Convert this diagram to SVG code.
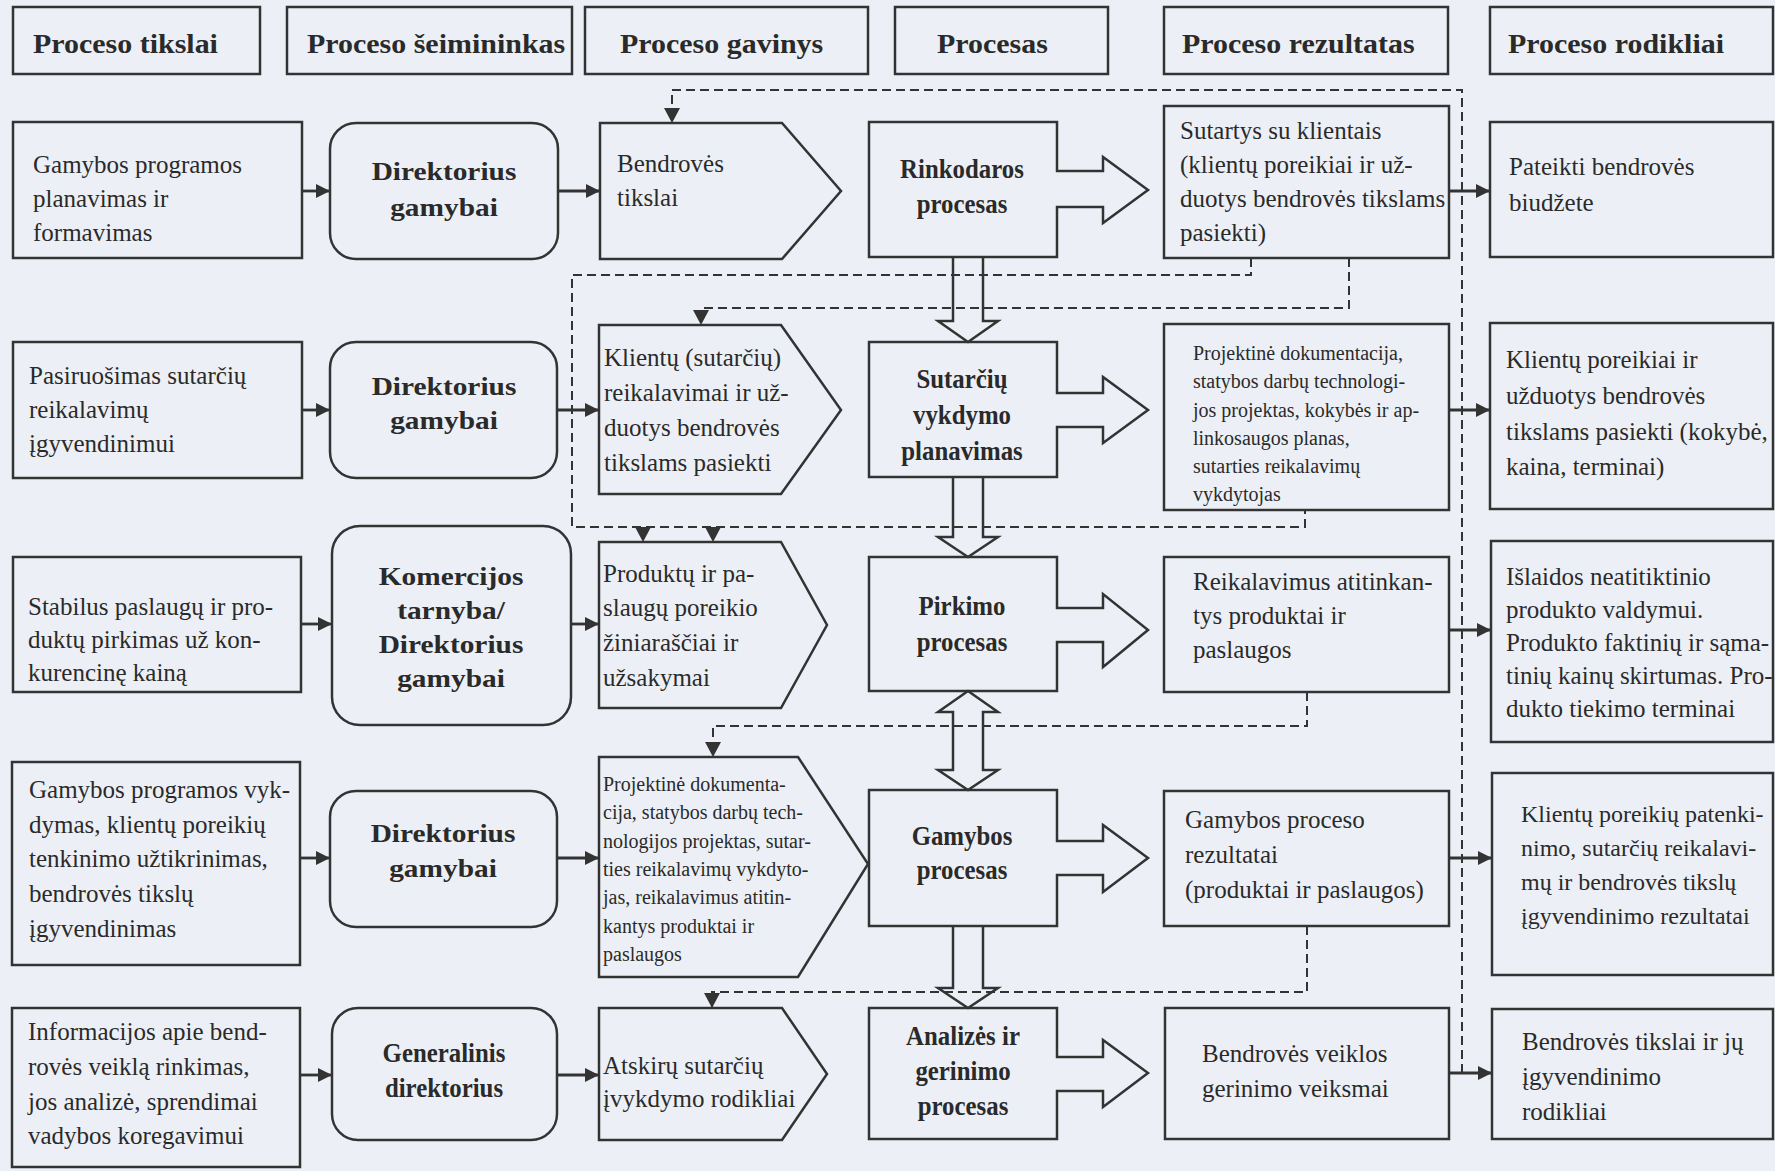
<svg xmlns="http://www.w3.org/2000/svg" width="1775" height="1171" viewBox="0 0 1775 1171">
  <defs>
    <style>
      .bg { fill: #ecf0f6; }
      .box { fill: #ecf0f6; stroke: #333; stroke-width: 2.5; }
      .blk { fill: none; stroke: #333; stroke-width: 2.5; stroke-linejoin: miter; }
      .conn { fill: none; stroke: #333; stroke-width: 2.8; }
      .dash { fill: none; stroke: #333; stroke-width: 2; stroke-dasharray: 9 5; }
      text { font-family: "Liberation Serif", "Times New Roman", serif; fill: #2a2a2a; }
      .t { font-size: 25px; }
      .t24 { font-size: 24px; }
      .s { font-size: 20px; }
      .hd { font-size: 28px; font-weight: bold; }
      .own { font-size: 26px; font-weight: bold; }
      .pr { font-size: 27px; font-weight: bold; }
    </style>
    <marker id="arr" markerUnits="userSpaceOnUse" viewBox="0 0 14 14" markerWidth="14" markerHeight="14" refX="14" refY="7" orient="auto">
      <path d="M0 0 L14 7 L0 14 Z" fill="#333"/>
    </marker>
    <marker id="dart" markerUnits="userSpaceOnUse" viewBox="0 0 15 16" markerWidth="15" markerHeight="16" refX="15" refY="8" orient="auto">
      <path d="M0 0 L15 8 L0 16 Z" fill="#333"/>
    </marker>
  </defs>

  <rect class="bg" x="0" y="0" width="1775" height="1171"/>

  <!-- column headers -->
  <g id="headers">
    <rect class="box" x="13" y="7" width="247" height="67"/>
    <rect class="box" x="287" y="7" width="285" height="67"/>
    <rect class="box" x="585" y="7" width="283" height="67"/>
    <rect class="box" x="895" y="7" width="213" height="67"/>
    <rect class="box" x="1164" y="7" width="284" height="67"/>
    <rect class="box" x="1490" y="7" width="283" height="67"/>
    <text class="hd" transform="matrix(1.07 0 0 1 33 53)">Proceso tikslai</text>
    <text class="hd" transform="matrix(1.07 0 0 1 307 53)">Proceso šeimininkas</text>
    <text class="hd" transform="matrix(1.07 0 0 1 620 53)">Proceso gavinys</text>
    <text class="hd" transform="matrix(1.07 0 0 1 937 53)">Procesas</text>
    <text class="hd" transform="matrix(1.07 0 0 1 1182 53)">Proceso rezultatas</text>
    <text class="hd" transform="matrix(1.07 0 0 1 1508 53)">Proceso rodikliai</text>
  </g>

  <!-- row 1 -->
  <g id="goal1">
    <rect class="box" x="13" y="122" width="289" height="136"/>
    <text class="t"><tspan x="33" y="173">Gamybos programos</tspan><tspan x="33" y="207">planavimas ir</tspan><tspan x="33" y="241">formavimas</tspan></text>
  </g>
  <g id="owner1">
    <rect class="box" x="330" y="123" width="228" height="136" rx="26"/>
    <text class="own" text-anchor="middle" transform="matrix(1.13 0 0 1 444 180)"><tspan x="0" y="0">Direktorius</tspan><tspan x="0" y="36">gamybai</tspan></text>
  </g>
  <g id="input1">
    <path class="box" d="M600 123 H782 L841 191 L782 259 H600 Z"/>
    <text class="t"><tspan x="617" y="172">Bendrovės</tspan><tspan x="617" y="206">tikslai</tspan></text>
  </g>
  <g id="process1">
    <path class="box" d="M869 122 H1057 V171 H1103 V157 L1148 190 L1103 223 V207 H1057 V257 H869 Z"/>
    <text class="pr" text-anchor="middle" transform="matrix(0.92 0 0 1 962 178)"><tspan x="0" y="0">Rinkodaros</tspan><tspan x="0" y="35">procesas</tspan></text>
  </g>
  <g id="result1">
    <rect class="box" x="1164" y="106" width="285" height="152"/>
    <text class="t"><tspan x="1180" y="139">Sutartys su klientais</tspan><tspan x="1180" y="173">(klientų poreikiai ir už-</tspan><tspan x="1180" y="207">duotys bendrovės tikslams</tspan><tspan x="1180" y="241">pasiekti)</tspan></text>
  </g>
  <g id="kpi1">
    <rect class="box" x="1490" y="122" width="283" height="135"/>
    <text class="t"><tspan x="1509" y="175">Pateikti bendrovės</tspan><tspan x="1509" y="211">biudžete</tspan></text>
  </g>

  <!-- row 2 -->
  <g id="goal2">
    <rect class="box" x="13" y="342" width="289" height="136"/>
    <text class="t"><tspan x="29" y="384">Pasiruošimas sutarčių</tspan><tspan x="29" y="418">reikalavimų</tspan><tspan x="29" y="452">įgyvendinimui</tspan></text>
  </g>
  <g id="owner2">
    <rect class="box" x="330" y="342" width="227" height="136" rx="26"/>
    <text class="own" text-anchor="middle" transform="matrix(1.13 0 0 1 444 395)"><tspan x="0" y="0">Direktorius</tspan><tspan x="0" y="34">gamybai</tspan></text>
  </g>
  <g id="input2">
    <path class="box" d="M599 325 H781 L841 410 L781 494 H599 Z"/>
    <text class="t"><tspan x="604" y="366">Klientų (sutarčių)</tspan><tspan x="604" y="401">reikalavimai ir už-</tspan><tspan x="604" y="436">duotys bendrovės</tspan><tspan x="604" y="471">tikslams pasiekti</tspan></text>
  </g>
  <g id="process2">
    <path class="box" d="M869 342 H1057 V393 H1103 V377 L1148 410 L1103 443 V427 H1057 V477 H869 Z"/>
    <text class="pr" text-anchor="middle" transform="matrix(0.92 0 0 1 962 388)"><tspan x="0" y="0">Sutarčių</tspan><tspan x="0" y="36">vykdymo</tspan><tspan x="0" y="72">planavimas</tspan></text>
  </g>
  <g id="result2">
    <rect class="box" x="1164" y="324" width="285" height="186"/>
    <text class="s"><tspan x="1193" y="360">Projektinė dokumentacija,</tspan><tspan x="1193" y="388">statybos darbų technologi-</tspan><tspan x="1193" y="417">jos projektas, kokybės ir ap-</tspan><tspan x="1193" y="445">linkosaugos planas,</tspan><tspan x="1193" y="473">sutarties reikalavimų</tspan><tspan x="1193" y="501">vykdytojas</tspan></text>
  </g>
  <g id="kpi2">
    <rect class="box" x="1490" y="323" width="283" height="186"/>
    <text class="t"><tspan x="1506" y="368">Klientų poreikiai ir</tspan><tspan x="1506" y="404">užduotys bendrovės</tspan><tspan x="1506" y="440">tikslams pasiekti (kokybė,</tspan><tspan x="1506" y="475">kaina, terminai)</tspan></text>
  </g>

  <!-- row 3 -->
  <g id="goal3">
    <rect class="box" x="13" y="557" width="288" height="135"/>
    <text class="t"><tspan x="28" y="615">Stabilus paslaugų ir pro-</tspan><tspan x="28" y="648">duktų pirkimas už kon-</tspan><tspan x="28" y="681">kurencinę kainą</tspan></text>
  </g>
  <g id="owner3">
    <rect class="box" x="332" y="526" width="239" height="199" rx="28"/>
    <text class="own" text-anchor="middle" transform="matrix(1.13 0 0 1 451 585)"><tspan x="0" y="0">Komercijos</tspan><tspan x="0" y="34">tarnyba/</tspan><tspan x="0" y="68">Direktorius</tspan><tspan x="0" y="102">gamybai</tspan></text>
  </g>
  <g id="input3">
    <path class="box" d="M599 542 H781 L827 625 L781 708 H599 Z"/>
    <text class="t"><tspan x="603" y="582">Produktų ir pa-</tspan><tspan x="603" y="616">slaugų poreikio</tspan><tspan x="603" y="651">žiniaraščiai ir</tspan><tspan x="603" y="686">užsakymai</tspan></text>
  </g>
  <g id="process3">
    <path class="box" d="M869 557 H1057 V608 H1103 V594 L1148 630 L1103 667 V642 H1057 V691 H869 Z"/>
    <text class="pr" text-anchor="middle" transform="matrix(0.92 0 0 1 962 615)"><tspan x="0" y="0">Pirkimo</tspan><tspan x="0" y="36">procesas</tspan></text>
  </g>
  <g id="result3">
    <rect class="box" x="1164" y="557" width="285" height="135"/>
    <text class="t"><tspan x="1193" y="590">Reikalavimus atitinkan-</tspan><tspan x="1193" y="624">tys produktai ir</tspan><tspan x="1193" y="658">paslaugos</tspan></text>
  </g>
  <g id="kpi3">
    <rect class="box" x="1491" y="541" width="282" height="201"/>
    <text class="t"><tspan x="1506" y="585">Išlaidos neatitiktinio</tspan><tspan x="1506" y="618">produkto valdymui.</tspan><tspan x="1506" y="651">Produkto faktinių ir sąma-</tspan><tspan x="1506" y="684">tinių kainų skirtumas. Pro-</tspan><tspan x="1506" y="717">dukto tiekimo terminai</tspan></text>
  </g>

  <!-- row 4 -->
  <g id="goal4">
    <rect class="box" x="12" y="762" width="288" height="203"/>
    <text class="t"><tspan x="29" y="798">Gamybos programos vyk-</tspan><tspan x="29" y="833">dymas, klientų poreikių</tspan><tspan x="29" y="867">tenkinimo užtikrinimas,</tspan><tspan x="29" y="902">bendrovės tikslų</tspan><tspan x="29" y="937">įgyvendinimas</tspan></text>
  </g>
  <g id="owner4">
    <rect class="box" x="330" y="791" width="227" height="136" rx="26"/>
    <text class="own" text-anchor="middle" transform="matrix(1.13 0 0 1 443 842)"><tspan x="0" y="0">Direktorius</tspan><tspan x="0" y="35">gamybai</tspan></text>
  </g>
  <g id="input4">
    <path class="box" d="M599 757 H798 L868 864 L798 977 H599 Z"/>
    <text class="s"><tspan x="603" y="791">Projektinė dokumenta-</tspan><tspan x="603" y="819">cija, statybos darbų  tech-</tspan><tspan x="603" y="848">nologijos projektas, sutar-</tspan><tspan x="603" y="876">ties reikalavimų vykdyto-</tspan><tspan x="603" y="904">jas, reikalavimus atitin-</tspan><tspan x="603" y="933">kantys produktai ir</tspan><tspan x="603" y="961">paslaugos</tspan></text>
  </g>
  <g id="process4">
    <path class="box" d="M869 790 H1057 V841 H1103 V825 L1148 858 L1103 892 V875 H1057 V926 H869 Z"/>
    <text class="pr" text-anchor="middle" transform="matrix(0.92 0 0 1 962 845)"><tspan x="0" y="0">Gamybos</tspan><tspan x="0" y="34">procesas</tspan></text>
  </g>
  <g id="result4">
    <rect class="box" x="1164" y="791" width="285" height="135"/>
    <text class="t"><tspan x="1185" y="828">Gamybos proceso</tspan><tspan x="1185" y="863">rezultatai</tspan><tspan x="1185" y="898">(produktai ir paslaugos)</tspan></text>
  </g>
  <g id="kpi4">
    <rect class="box" x="1492" y="773" width="281" height="202"/>
    <text class="t24"><tspan x="1521" y="822">Klientų poreikių patenki-</tspan><tspan x="1521" y="856">nimo, sutarčių reikalavi-</tspan><tspan x="1521" y="890">mų ir bendrovės tikslų</tspan><tspan x="1521" y="924">įgyvendinimo rezultatai</tspan></text>
  </g>

  <!-- row 5 -->
  <g id="goal5">
    <rect class="box" x="12" y="1008" width="288" height="159"/>
    <text class="t"><tspan x="28" y="1040">Informacijos apie bend-</tspan><tspan x="28" y="1075">rovės veiklą rinkimas,</tspan><tspan x="28" y="1110">jos analizė, sprendimai</tspan><tspan x="28" y="1144">vadybos koregavimui</tspan></text>
  </g>
  <g id="owner5">
    <rect class="box" x="332" y="1008" width="225" height="132" rx="26"/>
    <text class="pr" text-anchor="middle" transform="matrix(0.92 0 0 1 444 1062)"><tspan x="0" y="0">Generalinis</tspan><tspan x="0" y="35">direktorius</tspan></text>
  </g>
  <g id="input5">
    <path class="box" d="M599 1008 H782 L827 1074 L782 1140 H599 Z"/>
    <text class="t"><tspan x="603" y="1074">Atskirų sutarčių</tspan><tspan x="603" y="1107">įvykdymo rodikliai</tspan></text>
  </g>
  <g id="process5">
    <path class="box" d="M869 1008 H1057 V1057 H1103 V1040 L1148 1073 L1103 1107 V1091 H1057 V1139 H869 Z"/>
    <text class="pr" text-anchor="middle" transform="matrix(0.92 0 0 1 963 1045)"><tspan x="0" y="0">Analizės ir</tspan><tspan x="0" y="35">gerinimo</tspan><tspan x="0" y="70">procesas</tspan></text>
  </g>
  <g id="result5">
    <rect class="box" x="1165" y="1008" width="284" height="131"/>
    <text class="t"><tspan x="1202" y="1062">Bendrovės veiklos</tspan><tspan x="1202" y="1097">gerinimo veiksmai</tspan></text>
  </g>
  <g id="kpi5">
    <rect class="box" x="1492" y="1009" width="281" height="130"/>
    <text class="t"><tspan x="1522" y="1050">Bendrovės tikslai ir jų</tspan><tspan x="1522" y="1085">įgyvendinimo</tspan><tspan x="1522" y="1120">rodikliai</tspan></text>
  </g>

  <!-- connectors -->
  <g id="connectors">
    <!-- block arrows between process steps -->
    <path class="blk" d="M953 257 V321 H938 L968 342 L998 321 H983 V257"/>
    <path class="blk" d="M953 477 V537 H938 L968 557 L998 537 H983 V477"/>
    <path class="blk" d="M968 691 L998 712 H983 V770 H998 L968 790 L938 770 H953 V712 H938 Z"/>
    <path class="blk" d="M953 926 V988 H938 L968 1008 L998 988 H983 V926"/>

    <!-- goal to owner -->
    <path class="conn" d="M302 191 H330" marker-end="url(#arr)"/>
    <path class="conn" d="M302 410 H330" marker-end="url(#arr)"/>
    <path class="conn" d="M301 624 H332" marker-end="url(#arr)"/>
    <path class="conn" d="M300 858 H330" marker-end="url(#arr)"/>
    <path class="conn" d="M300 1075 H332" marker-end="url(#arr)"/>

    <!-- owner to input -->
    <path class="conn" d="M558 191 H600" marker-end="url(#arr)"/>
    <path class="conn" d="M557 410 H599" marker-end="url(#arr)"/>
    <path class="conn" d="M571 624 H599" marker-end="url(#arr)"/>
    <path class="conn" d="M557 858 H599" marker-end="url(#arr)"/>
    <path class="conn" d="M557 1075 H599" marker-end="url(#arr)"/>

    <!-- result to indicator -->
    <path class="conn" d="M1449 191 H1490" marker-end="url(#arr)"/>
    <path class="conn" d="M1449 410 H1490" marker-end="url(#arr)"/>
    <path class="conn" d="M1449 630 H1491" marker-end="url(#arr)"/>
    <path class="conn" d="M1449 858 H1492" marker-end="url(#arr)"/>
    <path class="conn" d="M1449 1073 H1492" marker-end="url(#arr)"/>

    <!-- feedback lines -->
    <path class="dash" d="M1462 1073 V90 H672 V123" marker-end="url(#dart)"/>
    <path class="dash" d="M1251 258 V275 H572 V527 H1305 V510"/>
    <path class="dash" d="M643 527 V542" marker-end="url(#dart)"/>
    <path class="dash" d="M713 527 V542" marker-end="url(#dart)"/>
    <path class="dash" d="M1349 258 V308 H701 V325" marker-end="url(#dart)"/>
    <path class="dash" d="M1307 692 V726 H713 V757" marker-end="url(#dart)"/>
    <path class="dash" d="M1307 926 V992 H712 V1008" marker-end="url(#dart)"/>
  </g>
</svg>
